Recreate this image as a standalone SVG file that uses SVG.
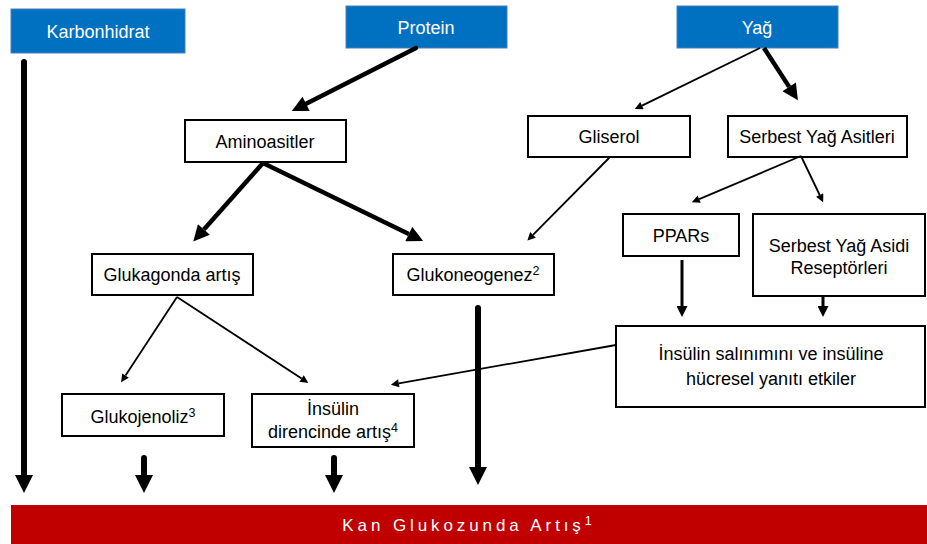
<svg xmlns="http://www.w3.org/2000/svg" width="927" height="544" viewBox="0 0 927 544">
<style>
.src rect{fill:#0070C0;stroke:#4A7EBB;stroke-width:1}
.src text{fill:#fff}
.box rect{fill:#fff;stroke:#000;stroke-width:2}
text{font-family:"Liberation Sans",Arial,sans-serif;font-size:18px;text-anchor:middle;fill:#000}
.sup{font-size:12.5px}
.thick{stroke:#000;stroke-width:6;fill:none}
.med{stroke:#000;stroke-width:4.5;fill:none}
.thin{stroke:#000;stroke-width:1.8;fill:none}
.vs{stroke:#000;stroke-width:3;fill:none}
</style>
<defs>
<marker id="hBig" viewBox="0 0 10 10" refX="0" refY="5" markerUnits="userSpaceOnUse" markerWidth="18" markerHeight="20" orient="auto"><path d="M0,0 L10,5 L0,10 z" fill="#000"/></marker>
<marker id="hMed" viewBox="0 0 10 10" refX="0" refY="5" markerUnits="userSpaceOnUse" markerWidth="18" markerHeight="16" orient="auto"><path d="M0,0 L10,5 L0,10 z" fill="#000"/></marker>
<marker id="hThin" viewBox="0 0 10 10" refX="0" refY="5" markerUnits="userSpaceOnUse" markerWidth="10" markerHeight="8" orient="auto"><path d="M0,0 L10,5 L0,10 z" fill="#000"/></marker>
<marker id="hVs" viewBox="0 0 10 10" refX="0" refY="5" markerUnits="userSpaceOnUse" markerWidth="12" markerHeight="11" orient="auto"><path d="M0,0 L10,5 L0,10 z" fill="#000"/></marker>
</defs>
<rect width="927" height="544" fill="#fff"/>

<g id="karbonhidrat" class="src"><rect x="11" y="9" width="174" height="44"/><text x="98" y="38">Karbonhidrat</text></g>
<g id="protein" class="src"><rect x="346" y="6" width="161" height="42"/><text x="426" y="34">Protein</text></g>
<g id="yag" class="src"><rect x="677" y="6" width="161" height="42"/><text x="757" y="34">Yağ</text></g>

<g id="aminoasitler" class="box"><rect x="185" y="120" width="161" height="42"/><text x="265" y="148">Aminoasitler</text></g>
<g id="gliserol" class="box"><rect x="528" y="116" width="162" height="41"/><text x="609" y="143">Gliserol</text></g>
<g id="serbest-yag-asitleri" class="box"><rect x="728" y="116" width="179" height="41"/><text x="817" y="143">Serbest Yağ Asitleri</text></g>

<g id="glukagonda-artis" class="box"><rect x="92" y="254" width="161" height="41"/><text x="172" y="281">Glukagonda artış</text></g>
<g id="glukoneogenez" class="box"><rect x="393" y="254" width="161" height="41"/><text x="473" y="281">Glukoneogenez<tspan class="sup" dy="-6">2</tspan></text></g>
<g id="ppars" class="box"><rect x="623" y="214" width="116" height="42"/><text x="681" y="242">PPARs</text></g>
<g id="sya-reseptorleri" class="box"><rect x="753" y="214" width="172" height="82"/><text x="839" y="252">Serbest Yağ Asidi</text><text x="839" y="274">Reseptörleri</text></g>
<g id="insulin-salinimi" class="box"><rect x="616" y="326" width="309" height="81"/><text x="771" y="360">İnsülin salınımını ve insüline</text><text x="771" y="385">hücresel yanıtı etkiler</text></g>

<g id="glukojenoliz" class="box"><rect x="62" y="394" width="162" height="42"/><text x="143" y="423">Glukojenoliz<tspan class="sup" dy="-6">3</tspan></text></g>
<g id="insulin-direnci" class="box"><rect x="252" y="394" width="162" height="53"/><text x="333" y="415">İnsülin</text><text x="333" y="438">direncinde artış<tspan class="sup" dy="-6">4</tspan></text></g>

<g id="kan-glukozu"><rect x="11" y="505" width="916" height="39" fill="#C00000"/><text x="469" y="531" style="fill:#fff;font-size:17px;letter-spacing:3.9px">Kan Glukozunda Artış<tspan class="sup" dy="-6" style="fill:#fff">1</tspan></text></g>

<g id="connectors">
<line class="thick" x1="24" y1="62" x2="24" y2="475" stroke-linecap="round" marker-end="url(#hBig)"/>
<line class="thick" x1="144" y1="458" x2="144" y2="475" stroke-width="7" stroke-linecap="round" marker-end="url(#hBig)"/>
<line class="thick" x1="334" y1="458" x2="334" y2="475" stroke-width="7" stroke-linecap="round" marker-end="url(#hBig)"/>
<line class="thick" x1="478" y1="308" x2="478" y2="467" stroke-linecap="round" marker-end="url(#hBig)"/>

<line class="med" x1="416" y1="48" x2="306.1" y2="103.8" stroke-linecap="round" marker-end="url(#hMed)"/>
<line class="med" x1="263" y1="163" x2="203.9" y2="229.5" marker-end="url(#hMed)"/>
<line class="med" x1="263" y1="163" x2="408.8" y2="234.1" marker-end="url(#hMed)"/>
<line class="med" x1="764" y1="48" x2="789.2" y2="86.9" marker-end="url(#hMed)"/>

<line class="thin" x1="760" y1="48" x2="642" y2="105.6" marker-end="url(#hThin)"/>
<line class="thin" x1="610" y1="157" x2="533" y2="234.9" marker-end="url(#hThin)"/>
<line class="thin" x1="801" y1="156" x2="699.2" y2="199.1" marker-end="url(#hThin)"/>
<line class="thin" x1="801" y1="156" x2="819.7" y2="195" marker-end="url(#hThin)"/>
<line class="thin" x1="177" y1="297" x2="125.5" y2="375.6" marker-end="url(#hThin)"/>
<line class="thin" x1="177" y1="297" x2="301.6" y2="378.5" marker-end="url(#hThin)"/>
<line class="thin" x1="616" y1="345" x2="398.8" y2="383.3" marker-end="url(#hThin)"/>

<line class="vs" x1="682" y1="260" x2="682" y2="306" marker-end="url(#hVs)"/>
<line class="vs" x1="823" y1="297" x2="823" y2="306" marker-end="url(#hVs)"/>
</g>
</svg>
